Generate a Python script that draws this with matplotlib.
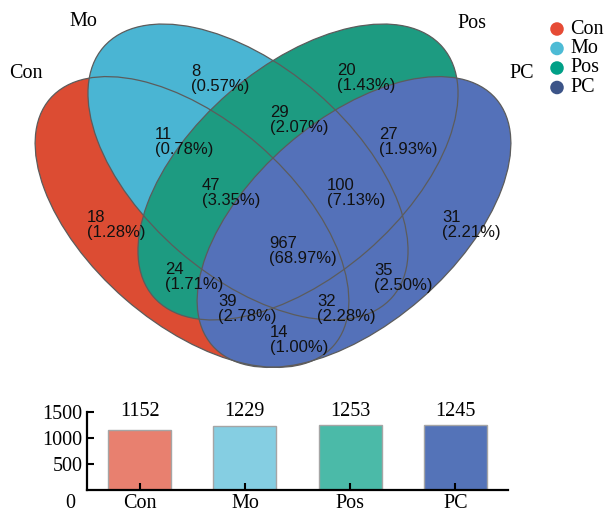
import matplotlib.pyplot as plt
from matplotlib.patches import Ellipse

# groups and totals per group
groups = ['Con', 'Mo', 'Pos', 'PC']
totals = [1152, 1229, 1253, 1245]

# counts for each region of the venn
regions = ['Con', 'Mo', 'Pos', 'PC',
           'Con&Mo', 'Mo&Pos', 'Pos&PC',
           'Con&Mo&Pos', 'Mo&Pos&PC', 'Con&Mo&Pos&PC',
           'Con&Pos', 'Mo&PC', 'Con&Pos&PC', 'Con&Mo&PC', 'Con&PC']
counts = [18, 8, 20, 31, 11, 29, 27, 47, 100, 967, 24, 35, 39, 32, 14]

fill_colors = ['#DC4C33', '#4AB5D3', '#1D9B81', '#5471B9']
dot_colors = ['#E64B35', '#4DBBD5', '#00A087', '#3C5488']
bar_colors = ['#E8806F', '#85CEE2', '#4BBAA8', '#5473B8']

serif = 'Liberation Serif'
sans = 'Liberation Sans'

fig = plt.figure(figsize=(6.1, 5.12), dpi=100)

# venn drawn in pixel coords
ax = fig.add_axes([0, 0, 1, 1])
ax.set_xlim(0, 610)
ax.set_ylim(512, 0)
ax.axis('off')

# ellipse geometry (center, semi axes, angle)
shapes = [((192, 222), 188, 102, 41.0),
          ((248, 172), 191, 105, 40.8),
          ((298, 172), 191, 105, -40.8),
          ((354, 222), 188, 102, -41.0)]

for (c, a, b, ang), col in zip(shapes, fill_colors):
    ax.add_patch(Ellipse(c, 2 * a, 2 * b, angle=ang, facecolor=col, edgecolor='none'))
for (c, a, b, ang) in shapes:
    ax.add_patch(Ellipse(c, 2 * a, 2 * b, angle=ang, facecolor='none',
                         edgecolor='#5c5c5c', linewidth=0.9))

label_pos = {'Con': (87, 225), 'Mo': (191, 79), 'Pos': (337, 78), 'PC': (442, 225),
             'Con&Mo': (155, 142), 'Mo&Pos': (270, 120), 'Pos&PC': (379, 142),
             'Con&Mo&Pos': (202, 193), 'Mo&Pos&PC': (327, 193), 'Con&Mo&Pos&PC': (269, 251),
             'Con&Pos': (165, 277), 'Mo&PC': (374, 278), 'Con&Pos&PC': (218, 309),
             'Con&Mo&PC': (317, 309), 'Con&PC': (270, 340)}

total = sum(counts)
for r, n in zip(regions, counts):
    x, y = label_pos[r]
    ax.text(x, y, f'{n}\n({n / total * 100:.2f}%)', ha='left', va='center',
            fontsize=12, family=sans, linespacing=0.95, color='#111111')

# set names
name_pos = [(26, 74), (83, 22), (472, 24), (522, 74)]
for g, (x, y) in zip(groups, name_pos):
    ax.text(x, y, g, ha='center', va='center', fontsize=14.5, family=serif)

# legend
for i, (g, col) in enumerate(zip(groups, dot_colors)):
    ax.scatter(557, 29 + i * 19.5, s=95, color=col, edgecolors='none')
    ax.text(570, 29 + i * 19.5, g, ha='left', va='center', fontsize=14.5, family=serif)

# bar chart
ax2 = fig.add_axes([87 / 610, 1 - 490 / 512, 421 / 610, 78 / 512])
xs = range(len(groups))
ax2.bar(xs, totals, width=0.6, color=bar_colors, edgecolor='#a5a5a5', linewidth=1)
ax2.set_xlim(-0.5, 3.5)
ax2.set_ylim(0, 1500)
ax2.set_yticks([500, 1000, 1500])
ax2.set_xticks(list(xs))
ax2.set_xticklabels(groups)
for sp in ['top', 'right']:
    ax2.spines[sp].set_visible(False)
for sp in ['left', 'bottom']:
    ax2.spines[sp].set_linewidth(1.6)
ax2.tick_params(direction='in', length=5, width=1.5, labelsize=14.5, pad=3)
for lab in ax2.get_xticklabels() + ax2.get_yticklabels():
    lab.set_family(serif)
ax2.text(-0.04, -0.17, '0', transform=ax2.transAxes, ha='center', va='center',
         fontsize=14.5, family=serif)
for x, v in zip(xs, totals):
    ax2.text(x, 1500, str(v), ha='center', va='center', fontsize=14.5, family=serif)

fig.savefig('out.png', dpi=100)
